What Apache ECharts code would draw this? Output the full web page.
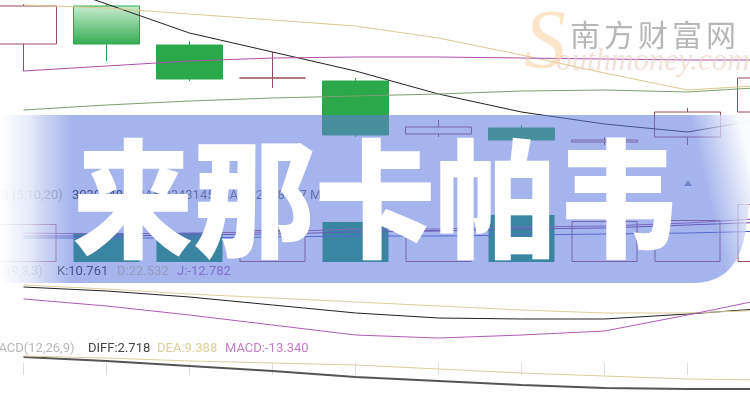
<!DOCTYPE html>
<html><head><meta charset="utf-8">
<script src="https://cdn.jsdelivr.net/npm/echarts@6/dist/echarts.min.js"></script>
<style>html,body{margin:0;padding:0;background:#fff;overflow:hidden;width:750px;height:400px;position:relative}
#c{position:absolute;left:-18px;top:0;width:830px;height:400px}</style>
</head><body><div id="c"></div>
<script>
// ---- data ----
const categories = ['09-18','09-19','09-20','09-23','09-24','09-25','09-26','09-27','09-30','10-08'];
// [open, close, low, high]
const candles = [
  [32.6, 36.4, 29.9, 36.6],
  [36.4, 32.6, 30.9, 36.6],
  [32.5, 29.1, 28.9, 32.9],
  [29.2, 29.2, 28.2, 31.8],
  [28.9, 23.5, 23.3, 29.2],
  [23.6, 24.3, 23.3, 25.0],
  [24.2, 23.0, 22.8, 24.5],
  [22.8, 23.0, 22.5, 23.3],
  [23.3, 25.8, 22.5, 26.2],
  [25.8, 29.2, 25.5, 29.6]
];
const ma5  = [39.5, 36.6, 33.7, 31.8, 29.9, 27.6, 25.8, 24.6, 23.8, 25.2];
const ma10 = [36.5, 36.2, 35.6, 35.0, 34.4, 33.2, 31.5, 29.7, 28.0, 28.5];
const ma20 = [29.9, 30.4, 30.9, 31.2, 31.3, 31.3, 31.2, 31.1, 31.0, 31.0];
const ma60 = [26.0, 26.5, 26.9, 27.2, 27.4, 27.6, 27.9, 28.0, 27.8, 28.3];
const volumes = [1900000, 1450000, 1450000, 1600000, 2000000, 1600000, 2350000, 2050000, 2100000, 2900000];
const volMa5  = [1450000, 1400000, 1450000, 1500000, 1650000, 1650000, 1750000, 1800000, 1950000, 2200000];
const volMa10 = [1300000, 1300000, 1350000, 1400000, 1500000, 1550000, 1650000, 1700000, 1850000, 2000000];
const volMa20 = [1200000, 1200000, 1200000, 1250000, 1300000, 1300000, 1350000, 1400000, 1450000, 1550000];
const kdjK = [90.0, 84.3, 75.7, 64.3, 52.9, 45.7, 44.3, 44.3, 51.4, 60.0];
const kdjD = [92.9, 87.1, 80.0, 74.3, 68.6, 62.9, 57.1, 52.9, 52.9, 57.1];
const kdjJ = [72.9, 62.9, 50.0, 35.7, 21.4, 17.1, 21.4, 27.1, 50.0, 74.3];
const macdDiff = [14.4, 11.2, 7.2, 3.2, -1.6, -4.8, -8.0, -10.4, -11.2, -11.2];
const macdDea  = [15.2, 13.6, 11.2, 9.6, 8.0, 4.8, 1.6, -0.8, -3.2, -4.0];
const volLegend  = ['VOL(5,10,20)', '3039748', 'MA5:2343145', 'MA10:2198637', 'MA20:1775524'];
const kdjLegend  = ['KDJ(9,3,3)', 'K:10.761', 'D:22.532', 'J:-12.782'];
const macdLegend = ['MACD(12,26,9)', 'DIFF:2.718', 'DEA:9.388', 'MACD:-13.340'];
const priceMark = '22.50';
const titleText = '来那卡帕韦';
const siteName = '南方财富网';
const siteUrl = 'outhmoney.com';

// ---- chart ----
const UP = '#9a4a5c', DOWN = '#2aa84a', VOL_DOWN = '#0a9455';
const OFF = 18; // chart canvas is shifted left by this many px
const chart = echarts.init(document.getElementById('c'), null, {renderer: 'canvas'});
const grids = [
  {left: 0, right: 0, top: 0, height: 170},
  {left: 0, right: 0, top: 200, height: 62},
  {left: 0, right: 0, top: 280, height: 70},
  {left: 0, right: 0, top: 350, height: 50}
];
const xAxes = grids.map((g, i) => ({
  type: 'category', gridIndex: i, data: categories, boundaryGap: true,
  axisLine: {show: false}, axisLabel: {show: false, interval: 0}, splitLine: {show: false},
  axisTick: i === 3 ? {show: true, inside: true, length: 12, alignWithLabel: true, interval: 0, lineStyle: {color: '#dcdcdc'}} : {show: false}
}));
const yRanges = [[20, 37], [0, 3100000], [0, 100], [-20, 20]];
const yAxes = yRanges.map((r, i) => ({
  type: 'value', gridIndex: i, min: r[0], max: r[1], show: false, splitLine: {show: false}
}));
const candleSeriesData = candles.map((c, i) => {
  if (i === 1) return {value: c, itemStyle: {color0: {type: 'linear', x: 0, y: 0, x2: 0, y2: 1,
    colorStops: [{offset: 0, color: '#d2efd6'}, {offset: 0.75, color: DOWN}, {offset: 1, color: DOWN}]}}};
  return c;
});
const volData = volumes.map((v, i) => {
  const up = candles[i][1] >= candles[i][0];
  return {value: v, itemStyle: up ? {color: 'rgba(0,0,0,0)', borderColor: UP, borderWidth: 1} : {color: VOL_DOWN}};
});
function line(name, data, color, xi, w) {
  return {name, type: 'line', data, xAxisIndex: xi, yAxisIndex: xi, showSymbol: false, symbol: 'none',
    lineStyle: {color, width: w || 1}, silent: true, z: 3};
}

function txt(x, y, text, fill, size, extra) {
  return Object.assign({type: 'text', x, y, z: 5, silent: true,
    style: {text, fill, font: (size || 13) + 'px Roboto', textAlign: 'left', textVerticalAlign: 'middle'}}, extra || {});
}

const legendEls = [
  txt(-12, 196, volLegend[0], '#999'),
  txt(72, 196, volLegend[1], '#223'),
  txt(133, 196, volLegend[2], '#666'),
  txt(218, 196, volLegend[3], '#666'),
  txt(310, 196, volLegend[4], '#666'),
  txt(-17, 272, kdjLegend[0], '#999'),
  txt(57, 272, kdjLegend[1], '#222'),
  txt(117, 272, kdjLegend[2], '#d8c98e'),
  txt(177, 272, kdjLegend[3], '#b05cb5'),
  txt(-13, 349, macdLegend[0], '#b8b8b8'),
  txt(88, 349, macdLegend[1], '#444'),
  txt(157, 349, macdLegend[2], '#dccf9c'),
  txt(225, 349, macdLegend[3], '#c77dc7'),
  txt(615, 162, priceMark, '#1a2a6a', 10),
  {type: 'polygon', z: 5, silent: true, shape: {points: [[684, 186], [692, 186], [688, 180]]}, style: {fill: '#8890b0'}}
];

const watermark = [
  {type: 'text', x: 524, y: 46, z: 40, silent: true,
    style: {text: 'S', fill: 'rgba(246,200,140,0.45)', font: 'italic 84px "Liberation Serif"', textAlign: 'left', textVerticalAlign: 'middle'}},
  {type: 'text', x: 556, y: 62, z: 41, silent: true,
    style: {text: siteUrl, fill: 'rgba(236,205,190,0.6)', font: 'italic 31px "Liberation Serif"', textAlign: 'left', textVerticalAlign: 'middle'}}
];
siteName.split('').forEach((ch, i) => {
  watermark.push({type: 'text', x: 570 + 34 * i, y: 35, z: 41, silent: true,
    style: {text: ch, fill: 'rgba(170,170,170,0.85)', font: '30px "Noto Sans CJK SC"', textAlign: 'left', textVerticalAlign: 'middle'}});
});

// banner outline: straight edges plus a rounded lower-right corner
function bannerPoints(x0) {
  const pts = [[x0, 115], [762, 115], [745, 232]];
  const p0 = [745, 232], c = [738, 283], p1 = [692, 283];
  for (let k = 1; k <= 16; k++) {
    const t = k / 16, a = (1 - t) * (1 - t), b = 2 * t * (1 - t), d = t * t;
    pts.push([a * p0[0] + b * c[0] + d * p1[0], a * p0[1] + b * c[1] + d * p1[1]]);
  }
  pts.push([x0, 283]);
  return pts;
}
const banner = [
  {type: 'polygon', z: 50, silent: true, shape: {points: bannerPoints(0)},
    style: {fill: {type: 'linear', x: 0, y: 0, x2: 1, y2: 0, colorStops: [
      {offset: 0, color: 'rgba(255,255,255,0.95)'},
      {offset: 0.04, color: 'rgba(225,230,248,0.85)'},
      {offset: 0.07, color: 'rgba(160,175,235,0.65)'},
      {offset: 0.095, color: 'rgba(95,122,222,0.56)'},
      {offset: 1, color: 'rgba(95,122,222,0.56)'}]}}},
  {type: 'polygon', z: 51, silent: true, shape: {points: bannerPoints(600)},
    style: {fill: {type: 'linear', x: 0.556, y: 0.03, x2: 0.846, y2: -0.036, colorStops: [
      {offset: 0, color: 'rgba(255,255,255,0)'},
      {offset: 1, color: 'rgba(255,255,255,0.95)'}]}}},
  {type: 'text', x: 375, y: 199, z: 60, silent: true, scaleX: 0.945,
    style: {text: titleText, fill: '#ffffff', font: '900 128px "Noto Sans CJK SC"', textAlign: 'center', textVerticalAlign: 'middle'}}
];

chart.setOption({
  animation: false,
  backgroundColor: '#ffffff',
  grid: grids,
  xAxis: xAxes,
  yAxis: yAxes,
  series: [
    {type: 'candlestick', data: candleSeriesData, xAxisIndex: 0, yAxisIndex: 0, barWidth: 66, z: 2,
      itemStyle: {color: 'rgba(0,0,0,0)', color0: DOWN, borderColor: UP, borderColor0: DOWN, borderWidth: 1}},
    line('MA5', ma5, '#222222', 0),
    line('MA10', ma10, '#dcc890', 0),
    line('MA20', ma20, '#b04fb0', 0),
    line('MA60', ma60, '#7ca070', 0),
    {type: 'bar', data: volData, xAxisIndex: 1, yAxisIndex: 1, barWidth: 66, z: 2},
    line('VMA5', volMa5, '#a050a0', 1),
    line('VMA10', volMa10, '#6a3a90', 1),
    line('VMA20', volMa20, '#4a5ab8', 1),
    line('K', kdjK, '#222222', 2),
    line('D', kdjD, '#dccf9c', 2),
    line('J', kdjJ, '#b05cb5', 2),
    line('DIFF', macdDiff, '#555555', 3, 2),
    line('DEA', macdDea, '#dccf9c', 3)
  ],
  graphic: {elements: [{type: 'group', x: OFF, y: 0, children: legendEls.concat(watermark, banner)}]}
});
</script></body></html>
